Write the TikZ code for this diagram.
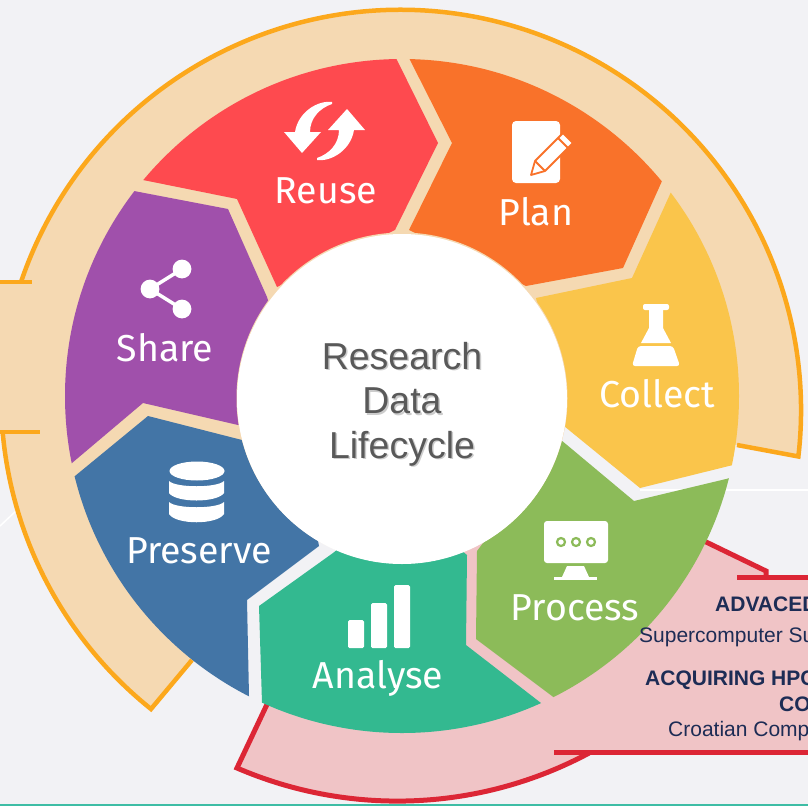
\documentclass[tikz,border=0pt]{standalone}
\usepackage{fontspec}
\setmainfont{Liberation Sans}
\newfontfamily\petalfont{Fira Sans}
\usetikzlibrary{positioning}
\definecolor{paper}{HTML}{F2F2F5}
\definecolor{sand}{HTML}{F5D9B2}
\definecolor{amber}{HTML}{FCA81C}
\definecolor{blush}{HTML}{F0C4C6}
\definecolor{crimson}{HTML}{DC2635}
\definecolor{navy}{HTML}{1D2C55}
\definecolor{slate}{HTML}{595959}
\definecolor{reusecol}{HTML}{FE4A4F}
\definecolor{plancol}{HTML}{F9722A}
\definecolor{collectcol}{HTML}{FAC54B}
\definecolor{processcol}{HTML}{8CBB59}
\definecolor{analysecol}{HTML}{33B990}
\definecolor{preservecol}{HTML}{4375A6}
\definecolor{sharecol}{HTML}{A050AB}
\definecolor{rulecol}{HTML}{3EBDA5}

\begin{document}
\begin{tikzpicture}[x=1pt,y=-1pt,
  petal/.style={font=\petalfont\fontsize{37.5}{37.5}\selectfont, text=white, inner sep=0pt},
  icon/.style={fill=white, draw=none},
  core/.style={font=\fontsize{37.5}{44.5}\selectfont, align=center, inner sep=0pt},
  note/.style={font=\fontsize{21}{21}\selectfont, text=navy, anchor=base west, inner sep=0pt},
  notebold/.style={note, font=\bfseries\fontsize{21}{21}\selectfont},
  amberline/.style={draw=amber, line width=4.5pt},
  redline/.style={draw=crimson, line width=5pt}]
  \useasboundingbox (0,0) rectangle (808,806);
  \fill[paper] (0,0) rectangle (808,806);
  \draw[white, line width=1.5pt] (640,490) -- (808,490);
  \draw[white, line width=1.5pt] (0,526) -- (17,510);
  \fill[rulecol] (0,804) rectangle (808,806);

  \fill[sand] (0,282) -- (21,282) arc[start angle=198.7, end angle=366.6, radius=400.6]
    -- (737,445) -- (600,400) -- (402,396) -- (192,660) -- (151,709)
    arc[start angle=128.7, end angle=174.8, radius=400] -- (0,432) -- cycle;
  \draw[amberline] (21,282) arc[start angle=198.7, end angle=366.6, radius=400.6] -- (737,445);
  \draw[amberline] (192,660) -- (151,709) arc[start angle=128.7, end angle=174.8, radius=400];
  \draw[amberline] (0,282) -- (32,282);
  \draw[amberline] (0,432) -- (40,432);

  \fill[blush] (270,698) -- (237,768) arc[start angle=113.3, end angle=61.8, radius=405.8]
    -- (808,752) -- (808,577) -- (766,577) -- (766,571) -- (704,541) -- (480,500) -- (400,600) -- cycle;
  \draw[redline] (270,698) -- (237,768) arc[start angle=113.3, end angle=61.8, radius=405.8];
  \draw[redline] (704,541) -- (766,571) -- (766,577);
  \draw[redline] (737,577) -- (808,577);
  \draw[redline] (554,752) -- (808,752);

  \begin{scope}
    \clip (402,396) circle (337);
    \fill[reusecol] (120,160) -- (143,180) -- (237,199) -- (277,287) -- (395,230) -- (438,143) -- (396,58) -- (380,20) -- (120,20) -- cycle;
    \fill[plancol] (409,58) -- (452,143) -- (409,230) -- (526,286) -- (623,268) -- (662,181) -- (700,100) -- (420,20) -- cycle;
    \fill[collectcol] (671,192) -- (632,278) -- (536,298) -- (564,426) -- (640,488) -- (733,465) -- (790,450) -- (790,180) -- (680,170) -- cycle;
    \fill[processcol] (726,479) -- (634,501) -- (561,440) -- (477,551) -- (476,639) -- (552,696) -- (580,720) -- (780,600) -- (780,465) -- cycle;
    \fill[analysecol] (333,553) -- (259,606) -- (262,703) -- (262,760) -- (541,760) -- (541,703) -- (466,645) -- (467,555) -- (400,500) -- cycle;
    \fill[preservecol] (319,546) -- (247,600) -- (249,696) -- (249,760) -- (40,500) -- (75,476) -- (148,416) -- (242,440) -- (300,450) -- cycle;
    \fill[sharecol] (134,191) -- (228,209) -- (267,297) -- (300,400) -- (238,425) -- (143,403) -- (72,463) -- (30,490) -- (30,170) -- (120,170) -- cycle;
  \end{scope}

  \fill[sand] (402,398) circle (165.5);
  \node[circle, fill=white, minimum size=330pt, inner sep=0pt] (hub) at (402,399) {};
  \node[core, text=black, opacity=.2] at (403.5,405.5) {Research\\Data\\Lifecycle};
  \node[core, text=slate] (hublabel) at (402,404) {Research\\Data\\Lifecycle};

  \node[petal] (reuse) at (326,191) {Reuse};
  \node[petal] (plan) at (536,212) {Plan};
  \node[petal] (collect) at (657,394) {Collect};
  \node[petal] (process) at (575,608) {Process};
  \node[petal] (analyse) at (378,678) {Analyse};
  \node[petal] (preserve) at (199,551) {Preserve};
  \node[petal] (share) at (165,348) {Share};

  \foreach \r in {0,180}
    \fill[icon, rotate around={\r:(324.5,131)}] (295,132) .. controls (298,112) and (318,100) .. (332,102)
      -- (332,104) .. controls (320,108) and (310,118) .. (310,132) -- (321,132) -- (302,153) -- (284,132) -- cycle;

  \fill[icon, rounded corners=4pt] (512,121) rectangle (560,183);
  \filldraw[fill=white, draw=plancol, line width=1.8pt, line join=round]
    (531,175) -- (535,161) -- (563,133) -- (573,143) -- (545,171) -- cycle;
  \draw[plancol, line width=1.8pt] (558,138) -- (568,148);
  \draw[plancol, line width=1.8pt] (535,161) -- (545,171);

  \fill[icon, rounded corners=2pt] (643,304) rectangle (669,310);
  \fill[icon] (649,310) -- (649,328) -- (641,343) -- (671,343) -- (663,328) -- (663,310) -- cycle;
  \fill[icon, rounded corners=3pt] (638,346) -- (673,346) -- (680,366) -- (632,366) -- cycle;

  \fill[icon, rounded corners=3pt] (544,521) rectangle (608,563);
  \foreach \cx in {561,576,591}
    \draw[processcol, line width=2.2pt] (\cx,542) circle (4);
  \fill[icon] (562,577) -- (567,566) -- (584,566) -- (589,577) -- cycle;
  \fill[icon] (554,577) rectangle (597,579.5);

  \fill[icon, rounded corners=1.5pt] (348,620) rectangle (364,648);
  \fill[icon, rounded corners=1.5pt] (371,603) rectangle (387,648);
  \fill[icon, rounded corners=1.5pt] (394,585) rectangle (410,648);

  \fill[icon] (197,471) ellipse (27.5 and 9.5);
  \fill[icon] (169,481) .. controls (176,488) and (217,488) .. (224,481) -- (224,493) .. controls (217,503) and (176,503) .. (169,493) -- cycle;
  \fill[icon] (169,502) .. controls (176,509) and (217,509) .. (224,502) -- (224,514) .. controls (217,525) and (176,525) .. (169,514) -- cycle;

  \draw[white, line width=3.5pt] (182,269) -- (150,289) -- (182,309);
  \foreach \sx/\sy in {182/269,150/289,182/309}
    \fill[icon] (\sx,\sy) circle (9.4);

  \node[notebold] (advanced) at (715,611) {ADVACED};
  \node[note] (supercomputer) at (639,642) {Supercomputer Su};
  \node[notebold] (acquiring) at (645,685) {ACQUIRING HPC};
  \node[notebold] (co) at (779,711) {CO};
  \node[note] (croatian) at (668,736) {Croatian Comp};
\end{tikzpicture}
\end{document}
